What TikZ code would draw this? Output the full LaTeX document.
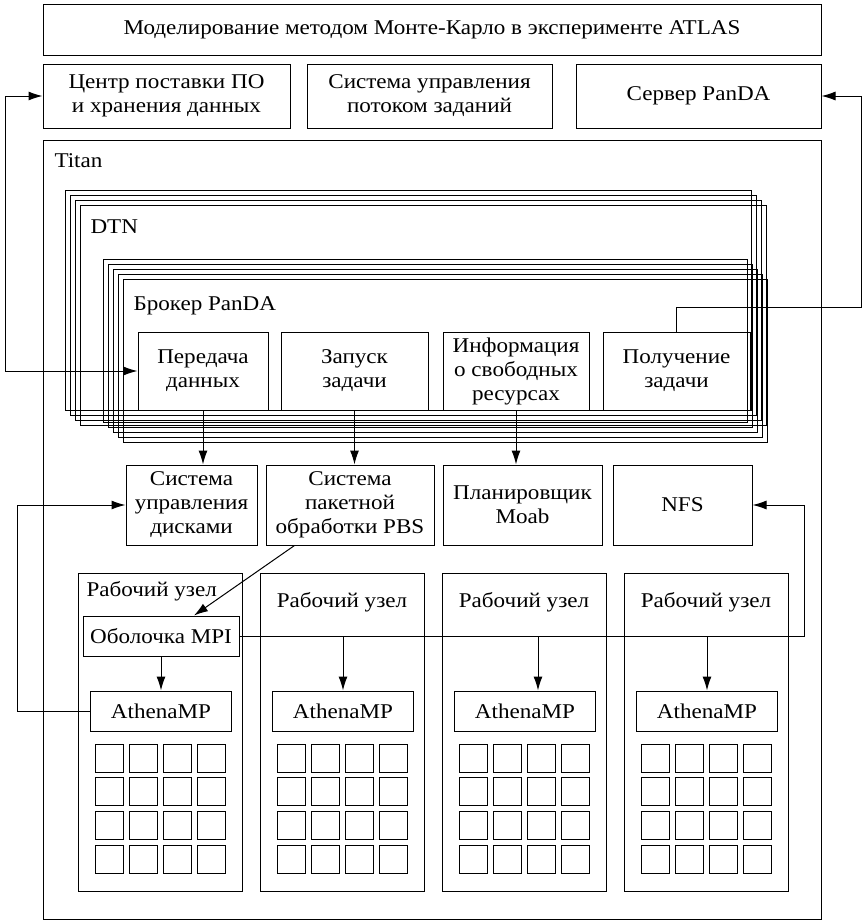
\documentclass[tikz,border=0pt]{standalone}
\usepackage{fontspec}
\setmainfont{Liberation Serif}[FakeStretch=1.1]
\usetikzlibrary{arrows.meta,calc}

\tikzset{
  blok/.style={draw,line width=1pt,align=center,inner sep=0pt},
  podpis/.style={anchor=base west,inner sep=0pt},
  strelka/.style={line width=1pt,-{Latex[length=14pt,width=9pt]}},
  dvestrelki/.style={line width=1pt,{Latex[length=14pt,width=9pt]}-{Latex[length=14pt,width=9pt]}},
}

\begin{document}
\begin{tikzpicture}[x=1pt,y=-1pt,line width=1pt,font=\fontsize{21}{24}\selectfont]
\useasboundingbox (0,0) rectangle (863,921);

% Верхний уровень: ATLAS и внешние службы.
\node[blok,minimum width=778,minimum height=51] (atlas) at (432,29.5)
  {Моделирование методом Монте-Карло в эксперименте ATLAS};
\node[blok,minimum width=247,minimum height=64] (centr) at (166.5,96)
  {Центр поставки ПО\\и хранения данных};
\node[blok,minimum width=245,minimum height=64] (potok) at (429.5,96)
  {Система управления\\потоком заданий};
\node[blok,minimum width=245,minimum height=64] (server) at (698.5,96)
  {Сервер PanDA};

% Суперкомпьютер Titan.
\draw (43,140) rectangle (821,919);
\node[podpis] (titan) at (54,167) {Titan};

% Несколько узлов DTN, в каждом брокер PanDA.
\foreach \k in {0,...,3}
  \draw (65+5*\k,190+5*\k) rectangle (751+5*\k,410+5*\k);
\node[podpis] (dtn) at (90,233) {DTN};
\foreach \k in {0,...,4}
  \draw (103+5*\k,259+5*\k) rectangle (747+5*\k,422+5*\k);
\node[podpis] (broker) at (133,310) {Брокер PanDA};

\node[blok,minimum width=130,minimum height=78] (peredacha) at (203,371)
  {Передача\\данных};
\node[blok,minimum width=147,minimum height=78] (zapusk) at (354.5,371)
  {Запуск\\задачи};
\node[blok,minimum width=146,minimum height=78] (info) at (516,371)
  {Информация\\о свободных\\ресурсах};
\node[blok,minimum width=147,minimum height=78] (poluchenie) at (676.5,371)
  {Получение\\задачи};

% Системы Titan.
\node[blok,minimum width=131,minimum height=80] (diski) at (191.5,505)
  {Система\\управления\\дисками};
\node[blok,minimum width=168,minimum height=80] (pbs) at (350,505)
  {Система\\пакетной\\обработки PBS};
\node[blok,minimum width=159,minimum height=80] (moab) at (522.5,505)
  {Планировщик\\Moab};
\node[blok,minimum width=139,minimum height=80] (nfs) at (682.5,505)
  {NFS};

% Рабочие узлы.
\foreach \n/\cx in {1/160,2/342,3/524,4/706}{
  \node[blok,minimum width=164,minimum height=318] (uzel\n) at (\cx,732) {};
  \node[blok,minimum width=141,minimum height=40] (athena\n) at (\cx+1,711) {AthenaMP};
  \foreach \i in {0,...,3}
    \foreach \j in {0,...,3}
      \draw (\cx-65+34*\i,744+33.8*\j) rectangle ++(28,28);
}
\node[podpis] (metka1) at (86,596) {Рабочий узел};
\foreach \n in {2,3,4}
  \node[anchor=base,inner sep=0pt] (metka\n) at ($(uzel\n.north)+(0,35)$) {Рабочий узел};
\node[blok,minimum width=156,minimum height=40] (mpi) at (161,636) {Оболочка MPI};

% Связи.
\coordinate (levo) at (5,371);
\coordinate (pravo) at (861,307);
\coordinate (levo2) at (17,505);
\coordinate (pravo2) at (804,505);

\draw[dvestrelki] (centr.west) -| (levo) -- (peredacha.west);
\draw[strelka] (poluchenie.north) |- (pravo) |- (server.east);

\draw[strelka] (peredacha.south) -- (peredacha.south |- diski.north);
\draw[strelka] (zapusk.south) -- (zapusk.south |- pbs.north);
\draw[strelka] (info.south) -- (info.south |- moab.north);

\draw[strelka] ([xshift=29pt]pbs.south west) -- ([xshift=33pt]mpi.north);
\draw[strelka] (mpi.south) -- (athena1.north);
\draw[strelka] (athena1.west) -| (levo2) -- (diski.west);
\draw[strelka] (mpi.east) -| (pravo2) -- (nfs.east);
\draw[strelka] (mpi.east -| athena2.north) -- (athena2.north);
\draw[strelka] ($(mpi.east -| athena3.north)+(13,0)$) -- ([xshift=13pt]athena3.north);
\draw[strelka] (mpi.east -| athena4.north) -- (athena4.north);

\end{tikzpicture}
\end{document}
